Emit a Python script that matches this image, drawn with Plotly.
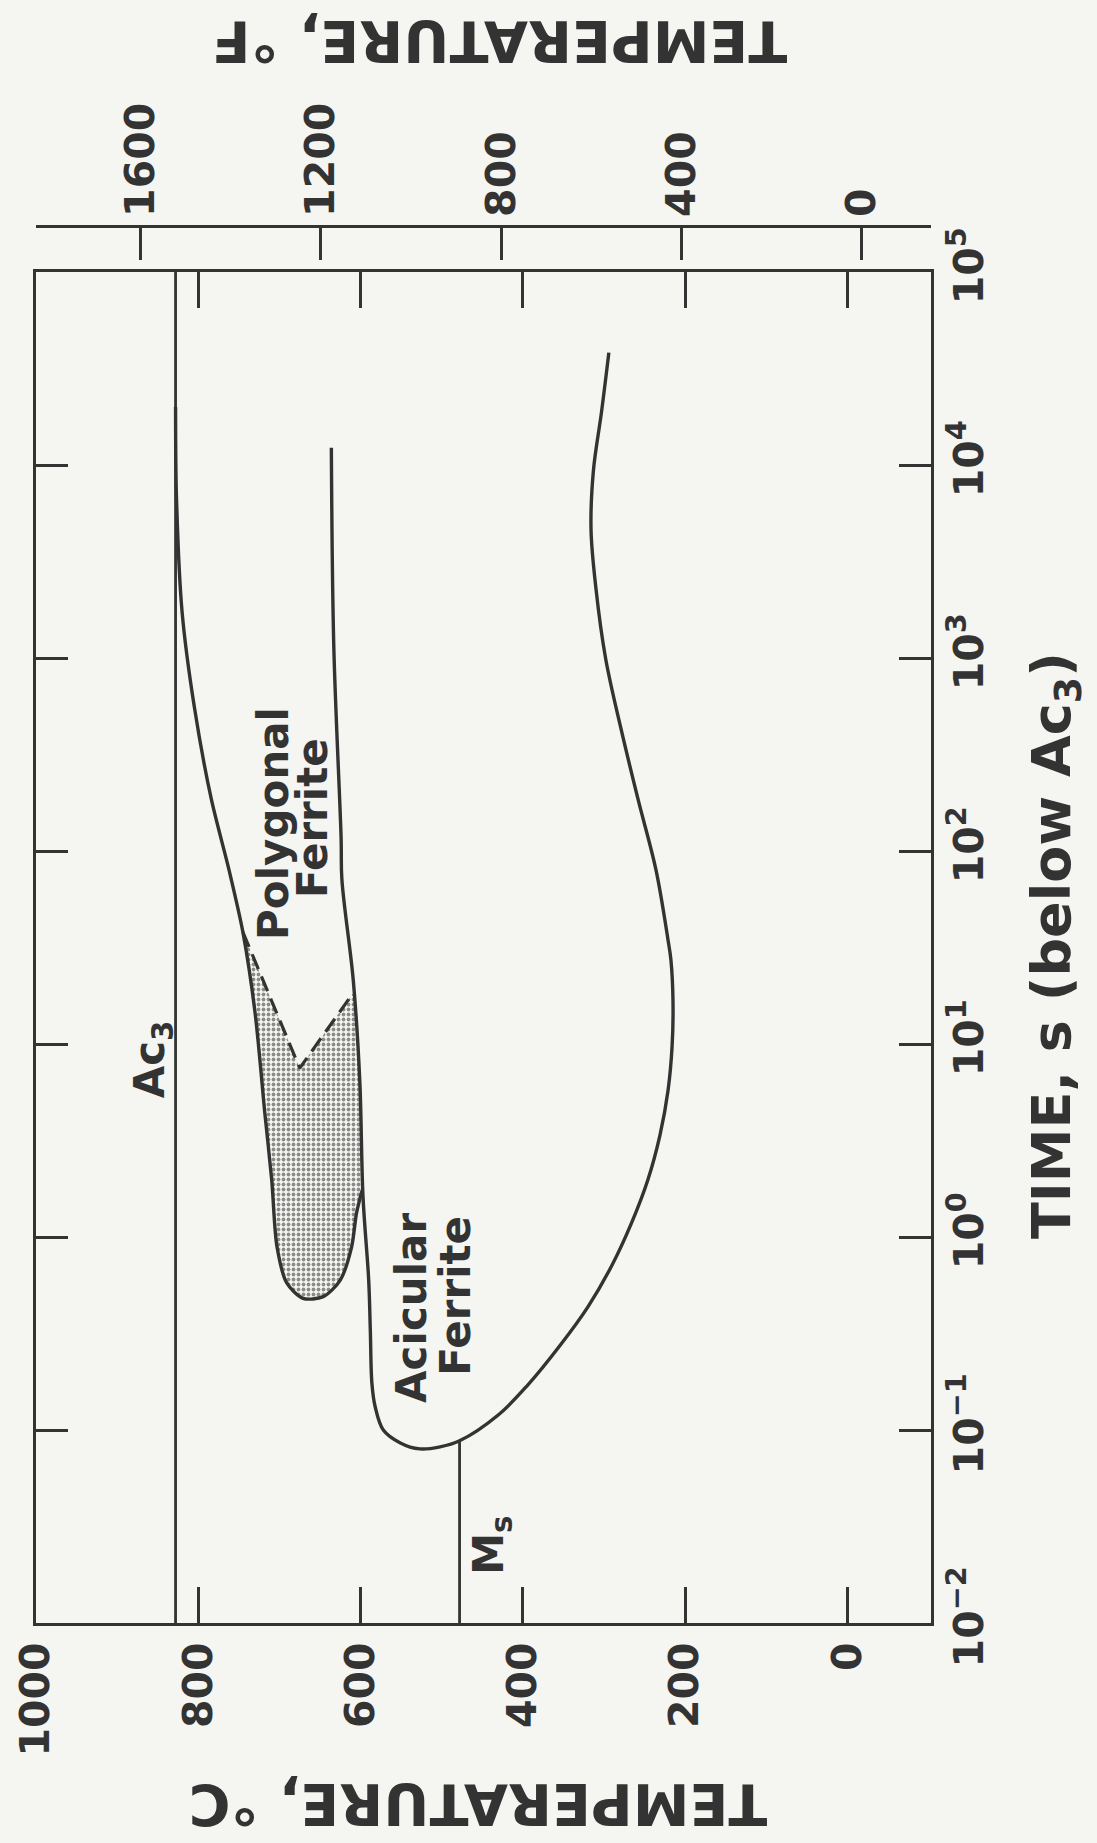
import plotly.graph_objects as go

# ---------------- data ----------------
TIME_RANGE = [1e-2, 1e5]            # s
AC3_TEMP = [828, 828]               # deg C (horizontal line)
MS_TEMP = [478, 478]                # deg C
MS_TIME = [1e-2, 0.088]             # s, Ms line ends where it meets the curve

# outer C-curve: acicular ferrite start (upper branch) -> nose -> finish (lower branch)
outer_time = [12300, 1150, 117, 71, 21.4, 6.5, 1.62, 0.60, 0.33, 0.174, 0.132, 0.100,
              0.0857, 0.0798, 0.0818, 0.0879, 0.120, 0.171, 0.275, 0.4335, 0.716, 1.197,
              1.972, 3.373, 5.78, 9.886, 16.9, 27.2, 34.4, 80, 185, 429, 995, 2310, 4660,
              9400, 18900, 38200]
outer_temp = [636, 633, 624, 623, 609, 601, 597, 590, 588, 586, 582, 572,
              551, 527, 502, 478, 430, 394, 354, 320, 290, 265.5,
              246, 231, 221, 216, 215, 217.5, 221, 236, 258, 279, 298, 310, 316,
              313, 303, 294]

# polygonal ferrite start curve (leaves Ac3, runs down to its nose, closes on outer curve)
poly_time = [20000, 7080, 1740, 562, 186, 79.4, 38, 14.5, 4.39, 1.97, 0.89, 0.578,
             0.481, 0.491, 0.598, 0.89, 1.33, 1.75]
poly_temp = [828, 827, 820, 805, 784, 762, 745, 730, 718, 709.5, 703, 691,
             671, 646, 625, 611, 605, 598]

# dashed boundary of the shaded region (start on poly curve -> apex -> outer curve)
dash_time = [38, 7.5, 18.4]
dash_temp = [745, 675, 609]

# axis ticks
time_ticks = [1e-2, 1e-1, 1e0, 1e1, 1e2, 1e3, 1e4, 1e5]
time_ticktext = ["10<sup>\u22122</sup>", "10<sup>\u22121</sup>", "10<sup>0</sup>", "10<sup>1</sup>",
                 "10<sup>2</sup>", "10<sup>3</sup>", "10<sup>4</sup>", "10<sup>5</sup>"]
degc_ticks = [0, 200, 400, 600, 800, 1000]
degf_ticks = [0, 400, 800, 1200, 1600]
DEGC_RANGE = [1000, -103]

# ---------------- figure ----------------
INK = "#333333"
BG = "#f5f5f1"
FONT = "DejaVu Sans"

# shaded (stippled) region polygon built from the curves
shade_time = poly_time[6:] + [outer_time[5]] + [dash_time[2], dash_time[1]]
shade_temp = poly_temp[6:] + [outer_temp[5]] + [dash_temp[2], dash_temp[1]]

fig = go.Figure()

fig.add_trace(go.Scatter(
    x=shade_temp, y=shade_time, mode="lines", fill="toself",
    line=dict(width=0, color=BG),
    fillcolor="rgba(0,0,0,0)",
    fillpattern=dict(shape=".", size=5, solidity=0.45, fgcolor="#222222", bgcolor=BG),
    hoverinfo="skip", showlegend=False))

fig.add_trace(go.Scatter(x=AC3_TEMP, y=TIME_RANGE, mode="lines",
                         line=dict(color=INK, width=2.8), showlegend=False))
fig.add_trace(go.Scatter(x=MS_TEMP, y=MS_TIME, mode="lines",
                         line=dict(color=INK, width=2.8), showlegend=False))
fig.add_trace(go.Scatter(x=outer_temp, y=outer_time, mode="lines",
                         line=dict(color=INK, width=3.4, shape="spline", smoothing=1.0),
                         showlegend=False))
fig.add_trace(go.Scatter(x=poly_temp, y=poly_time, mode="lines",
                         line=dict(color=INK, width=3.4, shape="spline", smoothing=0.8),
                         showlegend=False))
fig.add_trace(go.Scatter(x=dash_temp, y=dash_time, mode="lines",
                         line=dict(color=INK, width=3.2, dash="16px,8px"),
                         showlegend=False))

# invisible trace to carry the deg F axis
degf_range = [v * 9 / 5 + 32 for v in DEGC_RANGE]
fig.add_trace(go.Scatter(x=degf_range, y=TIME_RANGE, xaxis="x2", mode="lines",
                         line=dict(width=0), hoverinfo="skip", showlegend=False))

tickfont = dict(family=FONT, size=41, color=INK, weight="bold")

fig.update_layout(
    width=1097, height=1843,
    margin=dict(l=36, r=166, t=226, b=220),
    paper_bgcolor=BG, plot_bgcolor=BG,
    showlegend=False,
    xaxis=dict(range=DEGC_RANGE, tickvals=degc_ticks, ticktext=[str(v) for v in degc_ticks],
               tickangle=-90, ticks="inside", ticklen=36, tickwidth=2.8, tickcolor=INK,
               showline=True, linewidth=3.2, linecolor=INK, mirror="ticks",
               showgrid=False, zeroline=False, tickfont=tickfont, anchor="y"),
    xaxis2=dict(range=degf_range, tickvals=degf_ticks, ticktext=[str(v) for v in degf_ticks],
                overlaying="x", side="top", anchor="free", position=1,
                tickangle=-90, ticks="inside", ticklen=32, tickwidth=2.8, tickcolor=INK,
                showline=True, linewidth=2.8, linecolor=INK,
                showgrid=False, zeroline=False, tickfont=tickfont),
    yaxis=dict(type="log", range=[-2, 5], domain=[0, 0.96707], side="right",
               tickvals=time_ticks, ticktext=time_ticktext, tickangle=-90,
               ticks="inside", ticklen=32, tickwidth=2.8, tickcolor=INK,
               showline=True, linewidth=3.2, linecolor=INK, mirror="ticks",
               showgrid=False, zeroline=False, tickfont=tickfont),
)

lab = dict(family=FONT, size=42, color=INK, weight="bold")
common = dict(textangle=-90, showarrow=False, font=lab, xanchor="center", yanchor="middle")
# labels inside the plot (y given in log10 units on the log axis)
fig.add_annotation(x=856, y=0.92, text="Ac<sub>3</sub>", **common)
fig.add_annotation(x=438, y=-1.6, text="M<sub>s</sub>", **common)
fig.add_annotation(x=708, y=2.145, text="Polygonal", **common)
fig.add_annotation(x=660, y=2.17, text="Ferrite", **common)
fig.add_annotation(x=538, y=-0.368, text="Acicular", **common)
fig.add_annotation(x=484, y=-0.306, text="Ferrite", **common)

title = dict(family=FONT, size=57, color=INK, weight="bold")
tcommon = dict(xref="paper", yref="paper", showarrow=False, font=title,
               xanchor="center", yanchor="middle")
fig.add_annotation(x=0.494, y=-0.130, text="TEMPERATURE, \u00b0C", textangle=180, **tcommon)
fig.add_annotation(x=0.518, y=1.1324, text="TEMPERATURE, \u00b0F", textangle=180, **tcommon)
fig.add_annotation(x=1.1386, y=0.4846, text="TIME, s (below Ac<sub>3</sub>)", textangle=-90,
                   **dict(tcommon, font=dict(title, size=54)))

fig.write_html("out.html")
